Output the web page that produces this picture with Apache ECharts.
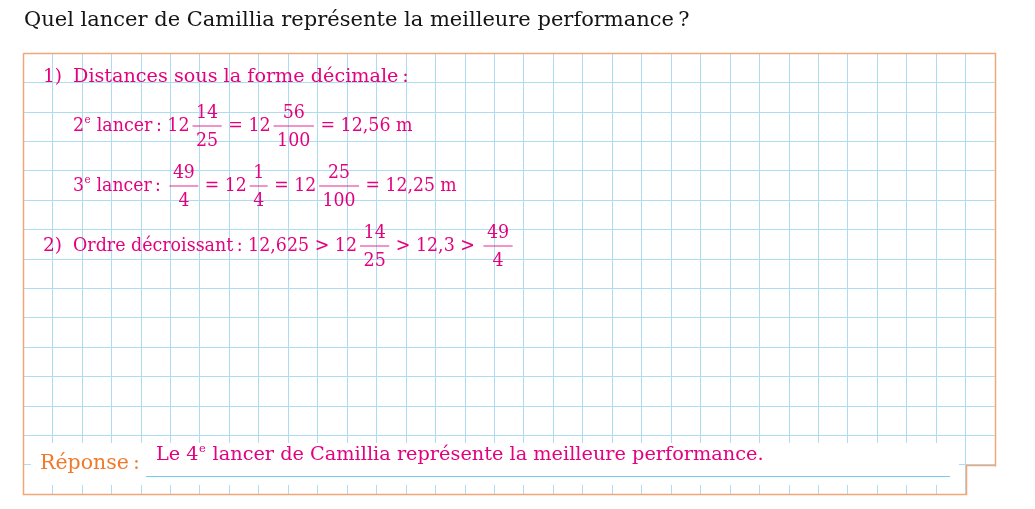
<!DOCTYPE html>
<html>
<head>
<meta charset="utf-8">
<script src="https://cdn.jsdelivr.net/npm/echarts@6/dist/echarts.min.js"></script>
<style>
  html, body { margin: 0; padding: 0; background: #fff; }
  #main { width: 1035px; height: 509px; }
</style>
</head>
<body>
<div id="main"></div>
<script>
// contenu de la fiche
const titleText = 'Quel lancer de Camillia représente la meilleure performance\u202F?';
const rowLabels = ['1)', '', '', '2)'];
const row1 = ['Distances sous la forme décimale\u202F:'];
const row2 = ['2', { sup: 'e' }, ' lancer\u202F: 12', { n: '14', d: '25' }, ' = 12', { n: '56', d: '100' }, ' = 12,56 m'];
const row3 = ['3', { sup: 'e' }, ' lancer\u202F: ', { n: '49', d: '4' }, ' = 12', { n: '1', d: '4' }, ' = 12', { n: '25', d: '100' }, ' = 12,25 m'];
const row4 = ['Ordre décroissant\u202F: 12,625 > 12', { n: '14', d: '25' }, ' > 12,3 > ', { n: '49', d: '4' }];
const answerLabel = 'Réponse\u202F:';
const answerText = ['Le 4', { sup: 'e' }, ' lancer de Camillia représente la meilleure performance.'];

const gridCols = 33;
const gridRows = 15;

const PINK = '#e5007d';
const ORANGE = '#ef7a2c';
const BORDER = '#f2a778';
const GRIDBLUE = '#aedcf2';
const FONT = '"DejaVu Serif", "Liberation Serif", serif';
const MATHFONT = '"DejaVu Serif Condensed", "DejaVu Serif", serif';
const SIZE = 18.6;

const ctx = document.createElement('canvas').getContext('2d');
function tw(s, size, fam) {
    ctx.font = size + 'px ' + (fam || FONT);
    return ctx.measureText(s).width;
}

function txt(s, x, y, size, color, align, fam) {
    return {
        type: 'text', x: x, y: y, z: 30,
        style: {
            text: s, font: size + 'px ' + (fam || FONT), fill: color,
            align: align || 'left', verticalAlign: 'middle',
            textAlign: align || 'left', textVerticalAlign: 'middle'
        }
    };
}

// place une suite de morceaux (texte, exposant, fraction) sur une ligne
function layoutRow(tokens, x0, y, size, color, fam, out) {
    let x = x0;
    tokens.forEach(function (t) {
        if (typeof t === 'string') {
            out.push(txt(t, x, y, size, color, 'left', fam));
            x += tw(t, size, fam);
        } else if (t.sup) {
            out.push(txt(t.sup, x + 0.5, y - 6, 11.5, color, 'left', fam));
            x += tw(t.sup, 11.5, fam) + 1;
        } else {
            x += 3;
            const w = Math.max(tw(t.n, size, fam), tw(t.d, size, fam)) + 7;
            out.push({
                type: 'line', z: 30,
                shape: { x1: x, y1: y, x2: x + w, y2: y },
                style: { stroke: color, lineWidth: 1, opacity: 0.85 }
            });
            out.push(txt(t.n, x + w / 2, y - 13, size, color, 'center', fam));
            out.push(txt(t.d, x + w / 2, y + 15, size, color, 'center', fam));
            x += w + 1;
        }
    });
    return x;
}

const elements = [];

// fond blanc de la zone réponse et coin hors cadre
elements.push({ type: 'rect', z: 10, shape: { x: 31, y: 443, width: 928, height: 42 }, style: { fill: '#fff' } });
elements.push({ type: 'rect', z: 10, shape: { x: 967, y: 467, width: 40, height: 40 }, style: { fill: '#fff' } });

// cadre orange
elements.push({
    type: 'polyline', z: 20,
    shape: { points: [[23.5, 53.5], [995.5, 53.5], [995.5, 465.5], [966.5, 465.5], [966.5, 494.5], [23.5, 494.5], [23.5, 53.5]] },
    style: { stroke: BORDER, lineWidth: 1.5, fill: null }
});

// ligne bleue de réponse
elements.push({
    type: 'line', z: 20,
    shape: { x1: 146, y1: 476.5, x2: 950, y2: 476.5 },
    style: { stroke: '#72cdef', lineWidth: 1.2 }
});

elements.push(txt(titleText, 24, 21, 21, '#141414'));

const rows = [row1, row2, row3, row4];
const rowY = [77, 126, 186, 246];
const rowSize = [19.2, 19.4, 19.2, 19.4];
const rowFont = [FONT, MATHFONT, MATHFONT, MATHFONT];
rows.forEach(function (r, i) {
    if (rowLabels[i]) elements.push(txt(rowLabels[i], 43, rowY[i], SIZE, PINK));
    layoutRow(r, 73, rowY[i], rowSize[i], PINK, rowFont[i], elements);
});

elements.push(txt(answerLabel, 40, 464, 20.5, ORANGE));
layoutRow(answerText, 156, 455, 19.3, PINK, FONT, elements);

const chart = echarts.init(document.getElementById('main'), null, { renderer: 'canvas' });
chart.setOption({
    animation: false,
    backgroundColor: '#fff',
    grid: { left: 23, top: 53, width: 972, height: 441, containLabel: false },
    xAxis: {
        type: 'value', min: 0, max: gridCols, interval: 1,
        axisLine: { show: false }, axisTick: { show: false }, axisLabel: { show: false },
        splitLine: { show: true, lineStyle: { color: GRIDBLUE, width: 1 } }
    },
    yAxis: {
        type: 'value', min: 0, max: gridRows, interval: 1,
        axisLine: { show: false }, axisTick: { show: false }, axisLabel: { show: false },
        splitLine: { show: true, lineStyle: { color: GRIDBLUE, width: 1 } }
    },
    series: [],
    graphic: { elements: elements }
});
</script>
</body>
</html>
